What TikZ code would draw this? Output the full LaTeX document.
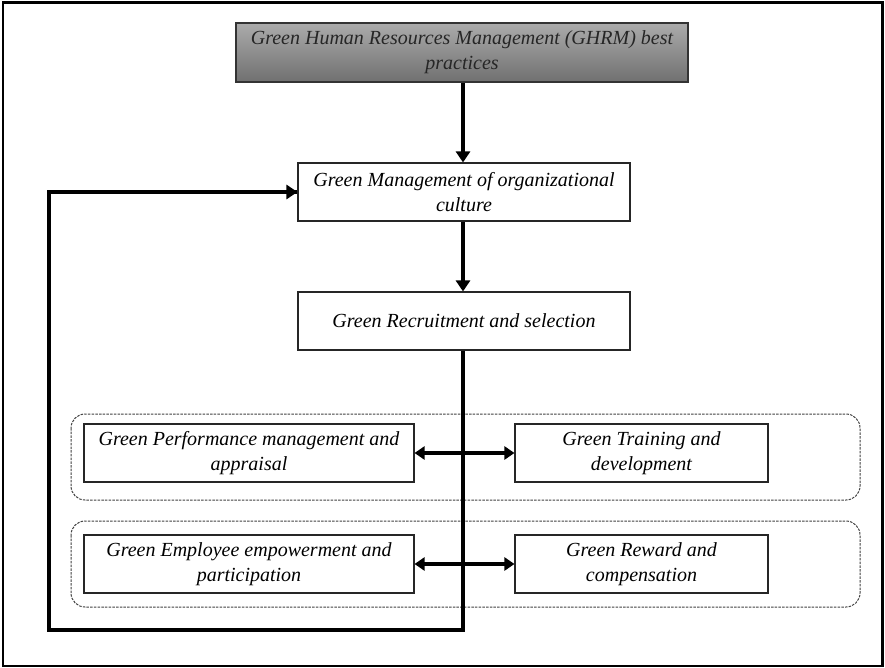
\documentclass[tikz,border=0pt]{standalone}
\usepackage{fontspec}
\setmainfont{Liberation Serif}
\usetikzlibrary{arrows.meta}
\begin{document}
\begin{tikzpicture}[x=1pt,y=-1pt,
  txt/.style={font=\fontsize{20}{25}\selectfont\itshape, align=center, inner sep=0pt},
  box/.style={txt, draw=black!85, line width=1.1pt, fill=white},
  topbox/.style={txt, draw=black!80, line width=1.3pt, top color=black!33, bottom color=black!56, text=black!85},
  flow/.style={line width=3.8pt, -{Triangle[length=11pt,width=14pt]}},
  twoway/.style={line width=3.4pt, {Triangle[length=10pt,width=13pt]}-{Triangle[length=10pt,width=13pt]}},
  group/.style={draw=black!75, line width=1pt, dash pattern=on 2.5pt off 1.2pt, rounded corners=14pt}]
\useasboundingbox (0,0) rectangle (885,668);
\draw[line width=2.2pt] (3,2.5) rectangle (882.5,666);
% dashed groups
\draw[group] (71,414) rectangle (860,500);
\draw[group] (71,521) rectangle (860,607);
% nodes
\node[topbox, minimum width=452pt, minimum height=59pt] (top) at (462,52.5)
  {Green Human Resources Management (GHRM) best\\practices};
\node[box, minimum width=332pt, minimum height=58pt] (mgmt) at (464,192)
  {Green Management of organizational\\culture};
\node[box, minimum width=332pt, minimum height=58pt] (recr) at (464,321)
  {Green Recruitment and selection};
\node[box, minimum width=330pt, minimum height=58pt] (perf) at (249,453)
  {Green Performance management and\\appraisal};
\node[box, minimum width=253pt, minimum height=58pt] (train) at (641.5,453)
  {Green Training and\\development};
\node[box, minimum width=330pt, minimum height=58pt] (emp) at (249,564)
  {Green Employee empowerment and\\participation};
\node[box, minimum width=253pt, minimum height=58pt] (rew) at (641.5,564)
  {Green Reward and\\compensation};
% coordinates for the loop
\coordinate (c1) at (463,630);
\coordinate (c2) at (49,630);
% connectors
\draw[flow] (top.south -| 463,0) -- (mgmt.north -| 463,0);
\draw[flow] (mgmt.south -| 463,0) -- (recr.north -| 463,0);
\draw[line width=3.8pt] (recr.south -| 463,0) -- (c1) -- (c2) |- (mgmt.west);
\draw[flow] (c2 |- mgmt.west) -- (mgmt.west);
\draw[twoway] (perf.east) -- (train.west);
\draw[twoway] (emp.east) -- (rew.west);
\end{tikzpicture}
\end{document}
